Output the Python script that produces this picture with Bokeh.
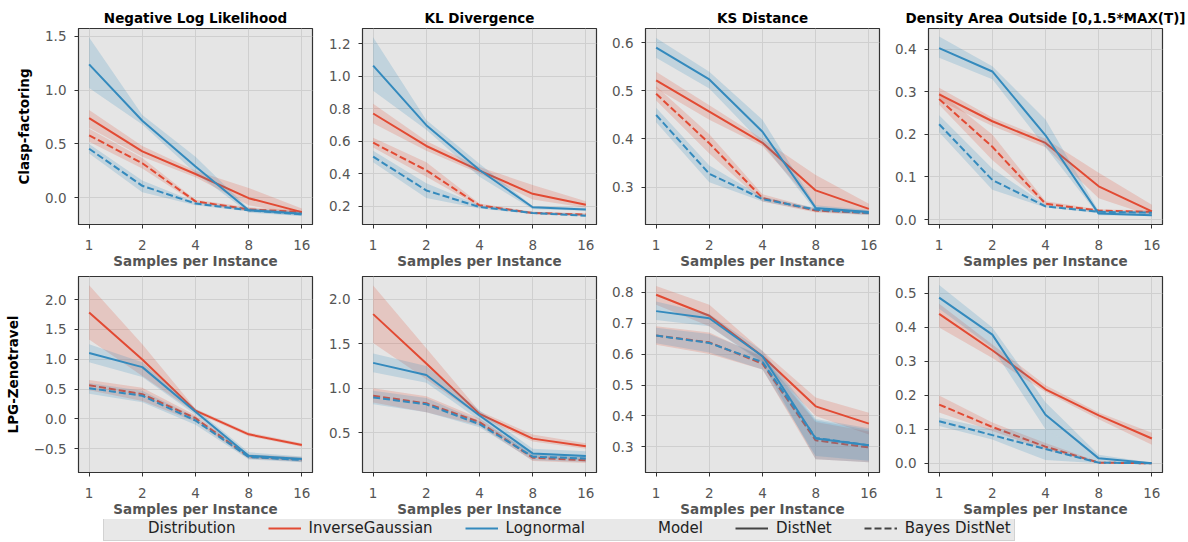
from bokeh.plotting import figure
from bokeh.models import Range1d, FixedTicker, Legend, LegendItem
from bokeh.layouts import column, row
from bokeh.embed import file_html
from bokeh.resources import INLINE

# ---------------- data ----------------
SAMPLES = [1, 2, 4, 8, 16]
X_TICK_LABELS = ["1", "2", "4", "8", "16"]
METRICS = ["Negative Log Likelihood", "KL Divergence", "KS Distance",
           "Density Area Outside [0,1.5*MAX(T)]"]
SCENARIOS = ["Clasp-factoring", "LPG-Zenotravel"]
DISTRIBUTIONS = ["InverseGaussian", "Lognormal"]
MODELS = ["DistNet", "Bayes DistNet"]

# Clasp-factoring / Negative Log Likelihood
CF_NLL_IG_DN = [0.74, 0.43, 0.22, -0.005, -0.135]
CF_NLL_IG_DN_LO = [0.65, 0.38, 0.19, -0.07, -0.16]
CF_NLL_IG_DN_HI = [0.815, 0.48, 0.25, 0.09, -0.10]
CF_NLL_IG_BD = [0.58, 0.32, -0.035, -0.11, -0.135]
CF_NLL_IG_BD_LO = [0.52, 0.27, -0.05, -0.13, -0.15]
CF_NLL_IG_BD_HI = [0.64, 0.37, -0.02, -0.09, -0.12]
CF_NLL_LN_DN = [1.24, 0.716, 0.29, -0.117, -0.15]
CF_NLL_LN_DN_LO = [1.02, 0.68, 0.23, -0.14, -0.17]
CF_NLL_LN_DN_HI = [1.49, 0.77, 0.38, -0.10, -0.13]
CF_NLL_LN_BD = [0.455, 0.11, -0.055, -0.117, -0.155]
CF_NLL_LN_BD_LO = [0.41, 0.05, -0.07, -0.13, -0.17]
CF_NLL_LN_BD_HI = [0.50, 0.16, -0.04, -0.10, -0.14]
CF_NLL_YTICKS = [0.0, 0.5, 1.0, 1.5]
CF_NLL_YLABELS = ["0.0", "0.5", "1.0", "1.5"]

# Clasp-factoring / KL Divergence
CF_KL_IG_DN = [0.77, 0.57, 0.418, 0.275, 0.208]
CF_KL_IG_DN_LO = [0.71, 0.54, 0.40, 0.24, 0.19]
CF_KL_IG_DN_HI = [0.83, 0.60, 0.44, 0.33, 0.23]
CF_KL_IG_BD = [0.59, 0.42, 0.204, 0.157, 0.147]
CF_KL_IG_BD_LO = [0.56, 0.38, 0.195, 0.15, 0.14]
CF_KL_IG_BD_HI = [0.62, 0.47, 0.215, 0.165, 0.155]
CF_KL_LN_DN = [1.065, 0.698, 0.422, 0.192, 0.178]
CF_KL_LN_DN_LO = [0.91, 0.67, 0.38, 0.18, 0.17]
CF_KL_LN_DN_HI = [1.24, 0.73, 0.46, 0.20, 0.19]
CF_KL_LN_BD = [0.504, 0.296, 0.194, 0.157, 0.14]
CF_KL_LN_BD_LO = [0.47, 0.25, 0.185, 0.15, 0.135]
CF_KL_LN_BD_HI = [0.54, 0.34, 0.205, 0.165, 0.15]
CF_KL_YTICKS = [0.2, 0.4, 0.6, 0.8, 1.0, 1.2]
CF_KL_YLABELS = ["0.2", "0.4", "0.6", "0.8", "1.0", "1.2"]

# Clasp-factoring / KS Distance
CF_KS_IG_DN = [0.522, 0.457, 0.392, 0.293, 0.2545]
CF_KS_IG_DN_LO = [0.505, 0.44, 0.385, 0.26, 0.245]
CF_KS_IG_DN_HI = [0.54, 0.47, 0.40, 0.325, 0.265]
CF_KS_IG_BD = [0.494, 0.391, 0.277, 0.251, 0.246]
CF_KS_IG_BD_LO = [0.48, 0.37, 0.27, 0.247, 0.242]
CF_KS_IG_BD_HI = [0.51, 0.41, 0.285, 0.255, 0.25]
CF_KS_LN_DN = [0.59, 0.524, 0.415, 0.2566, 0.248]
CF_KS_LN_DN_LO = [0.569, 0.505, 0.39, 0.25, 0.244]
CF_KS_LN_DN_HI = [0.61, 0.54, 0.44, 0.262, 0.252]
CF_KS_LN_BD = [0.45, 0.3276, 0.275, 0.253, 0.246]
CF_KS_LN_BD_LO = [0.435, 0.31, 0.27, 0.249, 0.242]
CF_KS_LN_BD_HI = [0.465, 0.345, 0.28, 0.257, 0.25]
CF_KS_YTICKS = [0.3, 0.4, 0.5, 0.6]
CF_KS_YLABELS = ["0.3", "0.4", "0.5", "0.6"]

# Clasp-factoring / Density Area Outside
CF_DA_IG_DN = [0.294, 0.231, 0.18, 0.078, 0.019]
CF_DA_IG_DN_LO = [0.28, 0.22, 0.17, 0.05, 0.008]
CF_DA_IG_DN_HI = [0.31, 0.24, 0.19, 0.11, 0.035]
CF_DA_IG_BD = [0.283, 0.171, 0.037, 0.021, 0.018]
CF_DA_IG_BD_LO = [0.27, 0.14, 0.033, 0.018, 0.015]
CF_DA_IG_BD_HI = [0.30, 0.20, 0.043, 0.024, 0.021]
CF_DA_LN_DN = [0.403, 0.348, 0.198, 0.014, 0.010]
CF_DA_LN_DN_LO = [0.38, 0.33, 0.17, 0.01, 0.008]
CF_DA_LN_DN_HI = [0.43, 0.36, 0.235, 0.02, 0.015]
CF_DA_LN_BD = [0.224, 0.093, 0.031, 0.018, 0.016]
CF_DA_LN_BD_LO = [0.205, 0.07, 0.028, 0.015, 0.013]
CF_DA_LN_BD_HI = [0.245, 0.12, 0.035, 0.021, 0.019]
CF_DA_YTICKS = [0.0, 0.1, 0.2, 0.3, 0.4]
CF_DA_YLABELS = ["0.0", "0.1", "0.2", "0.3", "0.4"]

# LPG-Zenotravel / Negative Log Likelihood
LZ_NLL_IG_DN = [1.785, 0.995, 0.138, -0.26, -0.44]
LZ_NLL_IG_DN_LO = [1.33, 0.72, 0.10, -0.29, -0.47]
LZ_NLL_IG_DN_HI = [2.24, 1.25, 0.17, -0.23, -0.41]
LZ_NLL_IG_BD = [0.564, 0.414, 0.011, -0.635, -0.68]
LZ_NLL_IG_BD_LO = [0.48, 0.30, -0.05, -0.67, -0.72]
LZ_NLL_IG_BD_HI = [0.65, 0.52, 0.06, -0.60, -0.64]
LZ_NLL_LN_DN = [1.105, 0.867, 0.12, -0.62, -0.674]
LZ_NLL_LN_DN_LO = [0.95, 0.70, 0.07, -0.66, -0.72]
LZ_NLL_LN_DN_HI = [1.25, 0.95, 0.17, -0.56, -0.63]
LZ_NLL_LN_BD = [0.514, 0.387, -0.028, -0.64, -0.69]
LZ_NLL_LN_BD_LO = [0.42, 0.28, -0.10, -0.68, -0.73]
LZ_NLL_LN_BD_HI = [0.60, 0.47, 0.03, -0.60, -0.65]
LZ_NLL_YTICKS = [-0.5, 0.0, 0.5, 1.0, 1.5, 2.0]
LZ_NLL_YLABELS = ["\u22120.5", "0.0", "0.5", "1.0", "1.5", "2.0"]

# LPG-Zenotravel / KL Divergence
LZ_KL_IG_DN = [1.833, 1.278, 0.711, 0.433, 0.348]
LZ_KL_IG_DN_LO = [1.507, 1.10, 0.68, 0.40, 0.32]
LZ_KL_IG_DN_HI = [2.155, 1.45, 0.74, 0.48, 0.38]
LZ_KL_IG_BD = [0.915, 0.83, 0.619, 0.219, 0.189]
LZ_KL_IG_BD_LO = [0.84, 0.73, 0.58, 0.18, 0.16]
LZ_KL_IG_BD_HI = [1.0, 0.91, 0.66, 0.25, 0.22]
LZ_KL_LN_DN = [1.285, 1.148, 0.693, 0.267, 0.237]
LZ_KL_LN_DN_LO = [1.18, 1.06, 0.64, 0.22, 0.19]
LZ_KL_LN_DN_HI = [1.39, 1.25, 0.75, 0.32, 0.29]
LZ_KL_LN_BD = [0.896, 0.819, 0.596, 0.23, 0.21]
LZ_KL_LN_BD_LO = [0.82, 0.73, 0.56, 0.19, 0.17]
LZ_KL_LN_BD_HI = [0.97, 0.89, 0.63, 0.27, 0.25]
LZ_KL_YTICKS = [0.5, 1.0, 1.5, 2.0]
LZ_KL_YLABELS = ["0.5", "1.0", "1.5", "2.0"]

# LPG-Zenotravel / KS Distance
LZ_KS_IG_DN = [0.792, 0.724, 0.593, 0.431, 0.375]
LZ_KS_IG_DN_LO = [0.76, 0.69, 0.575, 0.40, 0.34]
LZ_KS_IG_DN_HI = [0.82, 0.76, 0.61, 0.46, 0.41]
LZ_KS_IG_BD = [0.66, 0.638, 0.569, 0.321, 0.298]
LZ_KS_IG_BD_LO = [0.63, 0.60, 0.55, 0.26, 0.25]
LZ_KS_IG_BD_HI = [0.69, 0.67, 0.59, 0.38, 0.35]
LZ_KS_LN_DN = [0.739, 0.716, 0.593, 0.327, 0.305]
LZ_KS_LN_DN_LO = [0.71, 0.69, 0.57, 0.26, 0.25]
LZ_KS_LN_DN_HI = [0.77, 0.73, 0.61, 0.39, 0.36]
LZ_KS_LN_BD = [0.66, 0.636, 0.574, 0.329, 0.305]
LZ_KS_LN_BD_LO = [0.635, 0.605, 0.55, 0.27, 0.255]
LZ_KS_LN_BD_HI = [0.685, 0.665, 0.595, 0.385, 0.355]
LZ_KS_YTICKS = [0.3, 0.4, 0.5, 0.6, 0.7, 0.8]
LZ_KS_YLABELS = ["0.3", "0.4", "0.5", "0.6", "0.7", "0.8"]

# LPG-Zenotravel / Density Area Outside
LZ_DA_IG_DN = [0.44, 0.333, 0.218, 0.141, 0.073]
LZ_DA_IG_DN_LO = [0.40, 0.31, 0.21, 0.13, 0.055]
LZ_DA_IG_DN_HI = [0.47, 0.35, 0.23, 0.15, 0.09]
LZ_DA_IG_BD = [0.173, 0.107, 0.049, 0.002, 0.0]
LZ_DA_IG_BD_LO = [0.15, 0.095, 0.04, 0.0, 0.0]
LZ_DA_IG_BD_HI = [0.20, 0.12, 0.06, 0.005, 0.002]
LZ_DA_LN_DN = [0.488, 0.379, 0.143, 0.0146, 0.0]
LZ_DA_LN_DN_LO = [0.455, 0.34, 0.10, 0.005, 0.0]
LZ_DA_LN_DN_HI = [0.525, 0.40, 0.18, 0.025, 0.002]
LZ_DA_LN_BD = [0.124, 0.083, 0.042, 0.002, 0.0]
LZ_DA_LN_BD_LO = [0.11, 0.07, 0.01, 0.0, 0.0]
LZ_DA_LN_BD_HI = [0.135, 0.10, 0.10, 0.005, 0.002]
LZ_DA_YTICKS = [0.0, 0.1, 0.2, 0.3, 0.4, 0.5]
LZ_DA_YLABELS = ["0.0", "0.1", "0.2", "0.3", "0.4", "0.5"]

# ---------------- panel table (built from the arrays) ----------------
PANELS = [
    [  # Clasp-factoring
        dict(series=[(CF_NLL_IG_DN, CF_NLL_IG_DN_LO, CF_NLL_IG_DN_HI), (CF_NLL_IG_BD, CF_NLL_IG_BD_LO, CF_NLL_IG_BD_HI),
                     (CF_NLL_LN_DN, CF_NLL_LN_DN_LO, CF_NLL_LN_DN_HI), (CF_NLL_LN_BD, CF_NLL_LN_BD_LO, CF_NLL_LN_BD_HI)],
             yticks=CF_NLL_YTICKS, ylabels=CF_NLL_YLABELS, yrange=(-0.25, 1.574)),
        dict(series=[(CF_KL_IG_DN, CF_KL_IG_DN_LO, CF_KL_IG_DN_HI), (CF_KL_IG_BD, CF_KL_IG_BD_LO, CF_KL_IG_BD_HI),
                     (CF_KL_LN_DN, CF_KL_LN_DN_LO, CF_KL_LN_DN_HI), (CF_KL_LN_BD, CF_KL_LN_BD_LO, CF_KL_LN_BD_HI)],
             yticks=CF_KL_YTICKS, ylabels=CF_KL_YLABELS, yrange=(0.086, 1.294)),
        dict(series=[(CF_KS_IG_DN, CF_KS_IG_DN_LO, CF_KS_IG_DN_HI), (CF_KS_IG_BD, CF_KS_IG_BD_LO, CF_KS_IG_BD_HI),
                     (CF_KS_LN_DN, CF_KS_LN_DN_LO, CF_KS_LN_DN_HI), (CF_KS_LN_BD, CF_KS_LN_BD_LO, CF_KS_LN_BD_HI)],
             yticks=CF_KS_YTICKS, ylabels=CF_KS_YLABELS, yrange=(0.222, 0.630)),
        dict(series=[(CF_DA_IG_DN, CF_DA_IG_DN_LO, CF_DA_IG_DN_HI), (CF_DA_IG_BD, CF_DA_IG_BD_LO, CF_DA_IG_BD_HI),
                     (CF_DA_LN_DN, CF_DA_LN_DN_LO, CF_DA_LN_DN_HI), (CF_DA_LN_BD, CF_DA_LN_BD_LO, CF_DA_LN_BD_HI)],
             yticks=CF_DA_YTICKS, ylabels=CF_DA_YLABELS, yrange=(-0.0117, 0.449)),
    ],
    [  # LPG-Zenotravel
        dict(series=[(LZ_NLL_IG_DN, LZ_NLL_IG_DN_LO, LZ_NLL_IG_DN_HI), (LZ_NLL_IG_BD, LZ_NLL_IG_BD_LO, LZ_NLL_IG_BD_HI),
                     (LZ_NLL_LN_DN, LZ_NLL_LN_DN_LO, LZ_NLL_LN_DN_HI), (LZ_NLL_LN_BD, LZ_NLL_LN_BD_LO, LZ_NLL_LN_BD_HI)],
             yticks=LZ_NLL_YTICKS, ylabels=LZ_NLL_YLABELS, yrange=(-0.9, 2.387)),
        dict(series=[(LZ_KL_IG_DN, LZ_KL_IG_DN_LO, LZ_KL_IG_DN_HI), (LZ_KL_IG_BD, LZ_KL_IG_BD_LO, LZ_KL_IG_BD_HI),
                     (LZ_KL_LN_DN, LZ_KL_LN_DN_LO, LZ_KL_LN_DN_HI), (LZ_KL_LN_BD, LZ_KL_LN_BD_LO, LZ_KL_LN_BD_HI)],
             yticks=LZ_KL_YTICKS, ylabels=LZ_KL_YLABELS, yrange=(0.052, 2.256)),
        dict(series=[(LZ_KS_IG_DN, LZ_KS_IG_DN_LO, LZ_KS_IG_DN_HI), (LZ_KS_IG_BD, LZ_KS_IG_BD_LO, LZ_KS_IG_BD_HI),
                     (LZ_KS_LN_DN, LZ_KS_LN_DN_LO, LZ_KS_LN_DN_HI), (LZ_KS_LN_BD, LZ_KS_LN_BD_LO, LZ_KS_LN_BD_HI)],
             yticks=LZ_KS_YTICKS, ylabels=LZ_KS_YLABELS, yrange=(0.217, 0.851)),
        dict(series=[(LZ_DA_IG_DN, LZ_DA_IG_DN_LO, LZ_DA_IG_DN_HI), (LZ_DA_IG_BD, LZ_DA_IG_BD_LO, LZ_DA_IG_BD_HI),
                     (LZ_DA_LN_DN, LZ_DA_LN_DN_LO, LZ_DA_LN_DN_HI), (LZ_DA_LN_BD, LZ_DA_LN_BD_LO, LZ_DA_LN_BD_HI)],
             yticks=LZ_DA_YTICKS, ylabels=LZ_DA_YLABELS, yrange=(-0.027, 0.55)),
    ],
]

# ---------------- style ----------------
RED = "#E24A33"
BLUE = "#348ABD"
SERIES_STYLE = [(RED, "solid"), (RED, "7 3"), (BLUE, "solid"), (BLUE, "7 3")]
FONT = "DejaVu Sans"
FS = "13.5px"
BG = "#e5e5e5"
GRID = "#cfcfcf"
FRAME_W = 234
BORDER_LEFT = [78, 40, 39, 39]
BORDER_RIGHT = [10, 10, 10, 25]
ROW_TOP = [28, 5]
ROW_FRAME_H = [197, 198]
ROW_BOTTOM = [46, 45]
X_RANGE = (2 ** -0.2, 2 ** 4.2)


def make_panel(r, c):
    spec = PANELS[r][c]
    w = BORDER_LEFT[c] + FRAME_W + BORDER_RIGHT[c]
    h = ROW_TOP[r] + ROW_FRAME_H[r] + ROW_BOTTOM[r]
    p = figure(width=w, height=h, x_axis_type="log",
               x_range=Range1d(*X_RANGE), y_range=Range1d(*spec["yrange"]),
               output_backend="svg", toolbar_location=None,
               min_border_left=BORDER_LEFT[c], min_border_right=BORDER_RIGHT[c],
               min_border_top=ROW_TOP[r], min_border_bottom=ROW_BOTTOM[r])
    p.background_fill_color = BG
    p.border_fill_color = "white"
    p.outline_line_color = "#333333"
    p.outline_line_width = 1.2

    xt = FixedTicker(ticks=SAMPLES, minor_ticks=[])
    yt = FixedTicker(ticks=spec["yticks"], minor_ticks=[])
    p.xaxis.ticker = xt
    p.yaxis.ticker = yt
    p.xgrid.ticker = xt
    p.ygrid.ticker = yt
    p.xaxis.major_label_overrides = dict(zip(SAMPLES, X_TICK_LABELS))
    p.yaxis.major_label_overrides = dict(zip(spec["yticks"], spec["ylabels"]))
    p.grid.grid_line_color = GRID
    p.grid.grid_line_width = 1

    p.axis.axis_line_color = "#333333"
    p.axis.major_tick_line_color = "#333333"
    p.axis.major_tick_out = 4
    p.axis.major_tick_in = 0
    p.axis.minor_tick_line_color = None
    p.axis.major_label_text_font = FONT
    p.axis.major_label_text_font_size = FS
    p.axis.major_label_text_color = "#555555"
    p.xaxis.major_label_standoff = 11
    p.yaxis.major_label_standoff = 8

    p.xaxis.axis_label = "Samples per Instance"
    p.xaxis.axis_label_text_font = FONT
    p.xaxis.axis_label_text_font_size = FS
    p.xaxis.axis_label_text_font_style = "bold"
    p.xaxis.axis_label_text_color = "#555555"
    p.xaxis.axis_label_standoff = 0

    if c == 0:
        p.yaxis.axis_label = SCENARIOS[r]
        p.yaxis.axis_label_text_font = FONT
        p.yaxis.axis_label_text_font_size = FS
        p.yaxis.axis_label_text_font_style = "bold"
        p.yaxis.axis_label_text_color = "black"
        p.yaxis.axis_label_standoff = 10

    if r == 0:
        p.title.text = METRICS[c]
        p.title.align = "center"
        p.title.text_font = FONT
        p.title.text_font_size = FS
        p.title.text_font_style = "bold"
        p.title.text_color = "black"
        p.title.standoff = 6

    for (mean, lo, hi), (color, dash) in zip(spec["series"], SERIES_STYLE):
        p.varea(x=SAMPLES, y1=lo, y2=hi, fill_color=color, fill_alpha=0.2)
        p.line(x=SAMPLES, y=mean, line_color=color, line_width=2, line_dash=dash)
    return p


rows = [row(*[make_panel(r, c) for c in range(4)]) for r in range(2)]

# ---------------- legend strip ----------------
TOTAL_W = sum(BORDER_LEFT) + 4 * FRAME_W + sum(BORDER_RIGHT)
lp = figure(width=TOTAL_W, height=22, x_range=Range1d(0, 1), y_range=Range1d(0, 1),
            x_axis_location=None, y_axis_location=None,
            output_backend="svg", toolbar_location=None, min_border=0)
lp.grid.visible = False
lp.outline_line_color = None
lp.background_fill_color = "white"

NAN = [float("nan")]
r_head1 = lp.line(x=NAN, y=NAN, line_alpha=0)
r_ig = lp.line(x=NAN, y=NAN, line_color=RED, line_width=2)
r_ln = lp.line(x=NAN, y=NAN, line_color=BLUE, line_width=2)
r_head2 = lp.line(x=NAN, y=NAN, line_alpha=0)
r_dn = lp.line(x=NAN, y=NAN, line_color="#444444", line_width=2)
r_bd = lp.line(x=NAN, y=NAN, line_color="#444444", line_width=2, line_dash="7 3")

legend = Legend(items=[
    LegendItem(label="Distribution", renderers=[r_head1]),
    LegendItem(label=DISTRIBUTIONS[0], renderers=[r_ig]),
    LegendItem(label=DISTRIBUTIONS[1], renderers=[r_ln]),
    LegendItem(label="Model", renderers=[r_head2]),
    LegendItem(label=MODELS[0], renderers=[r_dn]),
    LegendItem(label=MODELS[1], renderers=[r_bd]),
], orientation="horizontal", location=(103, 0))
legend.glyph_width = 33
legend.glyph_height = 16
legend.label_height = 16
legend.label_standoff = 8
legend.spacing = 32
legend.padding = 3
legend.margin = 0
legend.label_text_font = FONT
legend.label_text_font_size = "15px"
legend.label_text_color = "#222222"
legend.background_fill_color = "#e8e8e8"
legend.background_fill_alpha = 1
legend.border_line_color = "#bbbbbb"
legend.border_line_width = 1
lp.add_layout(legend)

layout = column(rows[0], rows[1], lp)
open("out.html", "w").write(file_html(layout, INLINE))
